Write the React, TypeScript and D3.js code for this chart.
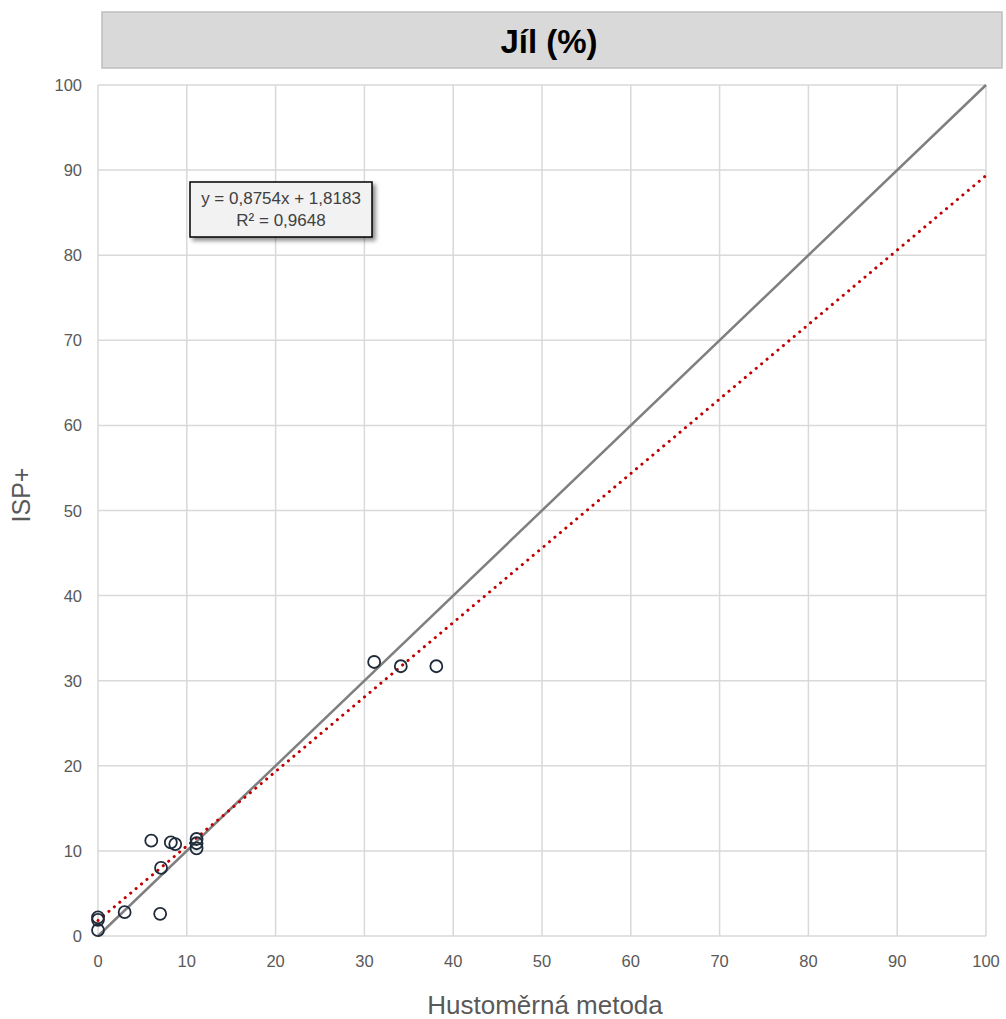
import React from "react";
import * as d3 from "d3";

const hustomer = [0, 0, 0, 3, 7, 6, 8.2, 8.7, 7.1, 11.1, 11.1, 11.1, 31.1, 34.1, 38.1];
const isp = [2.2, 1.9, 0.7, 2.8, 2.6, 11.2, 11.0, 10.8, 8.0, 11.4, 10.9, 10.3, 32.2, 31.7, 31.7];
const ticks = [0, 10, 20, 30, 40, 50, 60, 70, 80, 90, 100];
const slope = 0.8754;
const intercept = 1.8183;
const title = "Jíl (%)";
const xTitle = "Hustoměrná metoda";
const yTitle = "ISP+";
const eqLine1 = "y = 0,8754x + 1,8183";
const eqLine2 = "R² = 0,9648";

export default function App() {
  const W = 1006, H = 1019;
  const x = d3.scaleLinear().domain([0, 100]).range([98, 986]);
  const y = d3.scaleLinear().domain([0, 100]).range([936, 85]);
  const font = "'Liberation Sans', Arial, sans-serif";
  const line = d3.line<[number, number]>().x(d => x(d[0])).y(d => y(d[1]));
  const trend: [number, number][] = [[0, intercept], [100, slope * 100 + intercept]];
  const ident: [number, number][] = [[0, 0], [100, 100]];
  return (
    <svg width={W} height={H} style={{ position: "absolute", left: 0, top: 0, background: "#fff" }}>
      <defs>
        <filter id="sh" x="-20%" y="-20%" width="150%" height="160%">
          <feDropShadow dx="3" dy="3" stdDeviation="2" floodColor="#000" floodOpacity="0.45" />
        </filter>
      </defs>
      <rect x={102} y={12} width={900} height={56} fill="#d9d9d9" stroke="#bfbfbf" strokeWidth={1.5} />
      <text x={549} y={53} textAnchor="middle" fontFamily="'Liberation Sans Narrow', 'Liberation Sans', Arial, sans-serif" fontWeight="bold" fontSize={33} fill="#000">{title}</text>
      {ticks.map(t => (
        <line key={"gx" + t} x1={x(t)} x2={x(t)} y1={y(0)} y2={y(100)} stroke="#d9d9d9" strokeWidth={1.5} />
      ))}
      {ticks.map(t => (
        <line key={"gy" + t} x1={x(0)} x2={x(100)} y1={y(t)} y2={y(t)} stroke="#d9d9d9" strokeWidth={1.5} />
      ))}
      {ticks.map(t => (
        <text key={"tx" + t} x={x(t)} y={967} textAnchor="middle" fontFamily={font} fontSize={16.5} fill="#595959">{t}</text>
      ))}
      {ticks.map(t => (
        <text key={"ty" + t} x={82} y={y(t) + 6} textAnchor="end" fontFamily={font} fontSize={16.5} fill="#595959">{t}</text>
      ))}
      <path d={line(ident) || ""} stroke="#7f7f7f" strokeWidth={2.5} fill="none" />
      <path d={line(trend) || ""} stroke="#c00000" strokeWidth={3} strokeDasharray="0.1 7" strokeLinecap="round" fill="none" />
      {hustomer.map((v, i) => (
        <circle key={"p" + i} cx={x(v)} cy={y(isp[i])} r={6} fill="none" stroke="#1f2a3a" strokeWidth={1.8} />
      ))}
      <g filter="url(#sh)">
        <rect x={190} y={182} width={182} height={55} fill="#f2f2f2" stroke="#000" strokeWidth={1.5} />
      </g>
      <text x={281} y={204} textAnchor="middle" fontFamily={font} fontSize={17} fill="#404040">{eqLine1}</text>
      <text x={281} y={226} textAnchor="middle" fontFamily={font} fontSize={17} fill="#404040">{eqLine2}</text>
      <text x={545} y={1014} textAnchor="middle" fontFamily={font} fontSize={26} fill="#595959">{xTitle}</text>
      <text transform="translate(30,495) rotate(-90)" textAnchor="middle" fontFamily={font} fontSize={25} fill="#595959">{yTitle}</text>
    </svg>
  );
}
